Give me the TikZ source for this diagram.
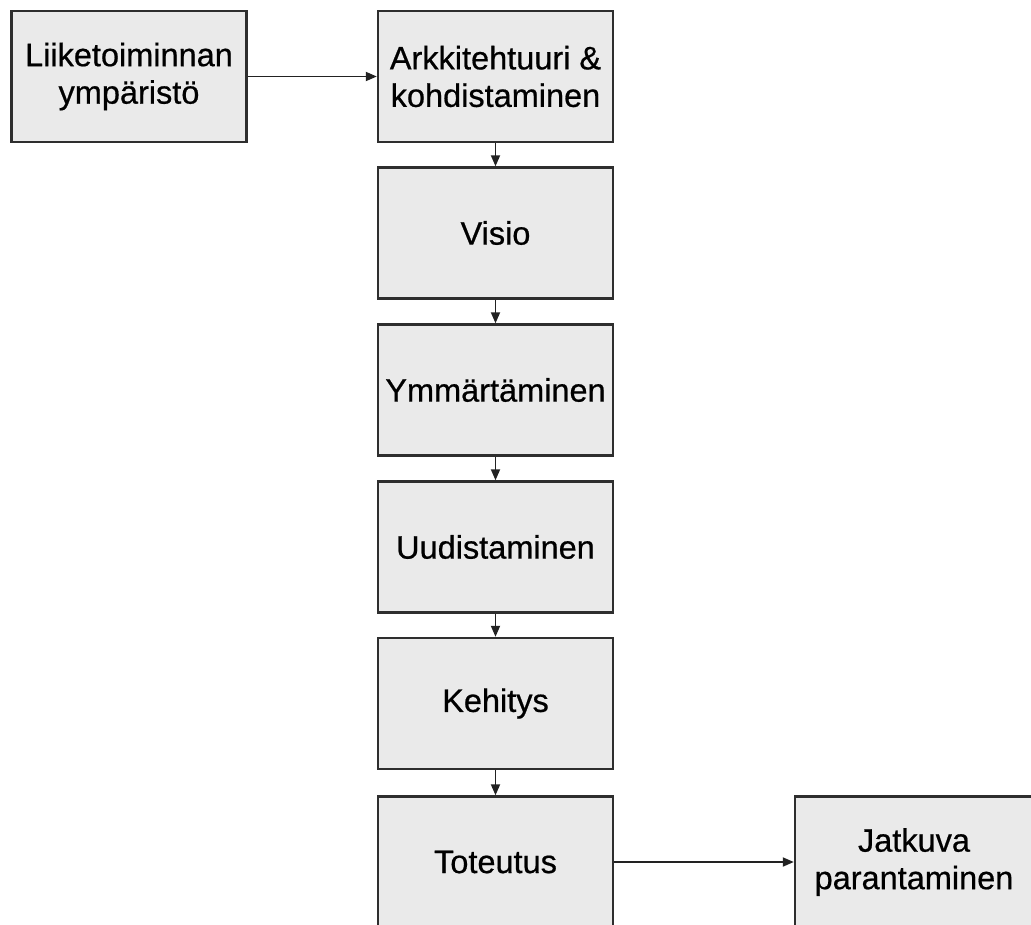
\documentclass[tikz,border=0pt]{standalone}
\usepackage{fontspec}
\setmainfont{Liberation Sans}[FakeBold=0.6]
\usetikzlibrary{arrows.meta}
\definecolor{boxfill}{HTML}{EAEAEA}
\definecolor{boxline}{HTML}{2E2E2E}
\definecolor{arrowline}{HTML}{222222}
\begin{document}
\begin{tikzpicture}[x=1pt,y=-1pt,
  stage/.style={draw=boxline,fill=boxfill,line width=2.4pt,
    minimum width=235pt,minimum height=131pt,inner sep=0pt,
    align=center,font=\fontsize{32.5}{37.5}\selectfont,text=black},
  flow/.style={draw=arrowline,line width=1.8pt,
    -{Triangle[length=11pt,width=9pt]}}]
\useasboundingbox (0,0) rectangle (1031,924);
\clip (0,0) rectangle (1031,924);
\fill[white] (0,0) rectangle (1031,924);

\node[stage] (env)  at (129,76.5)   {Liiketoiminnan\\ympäristö};
\node[stage] (arch) at (495.5,76.5) {Arkkitehtuuri \&\\kohdistaminen};
\node[stage] (vis)  at (495.5,233)  {Visio};
\node[stage] (und)  at (495.5,390)  {Ymmärtäminen};
\node[stage] (ren)  at (495.5,547)  {Uudistaminen};
\node[stage] (dev)  at (495.5,703.5) {Kehitys};
\node[stage] (impl) at (495.5,862)  {Toteutus};
\node[stage,minimum width=238pt] (cont) at (914,862) {Jatkuva\\parantaminen};

\draw[flow] (env)  -- (arch);
\draw[flow] (arch) -- (vis);
\draw[flow] (vis)  -- (und);
\draw[flow] (und)  -- (ren);
\draw[flow] (ren)  -- (dev);
\draw[flow] (dev)  -- (impl);
\draw[flow] (impl) -- (cont);
\end{tikzpicture}
\end{document}
